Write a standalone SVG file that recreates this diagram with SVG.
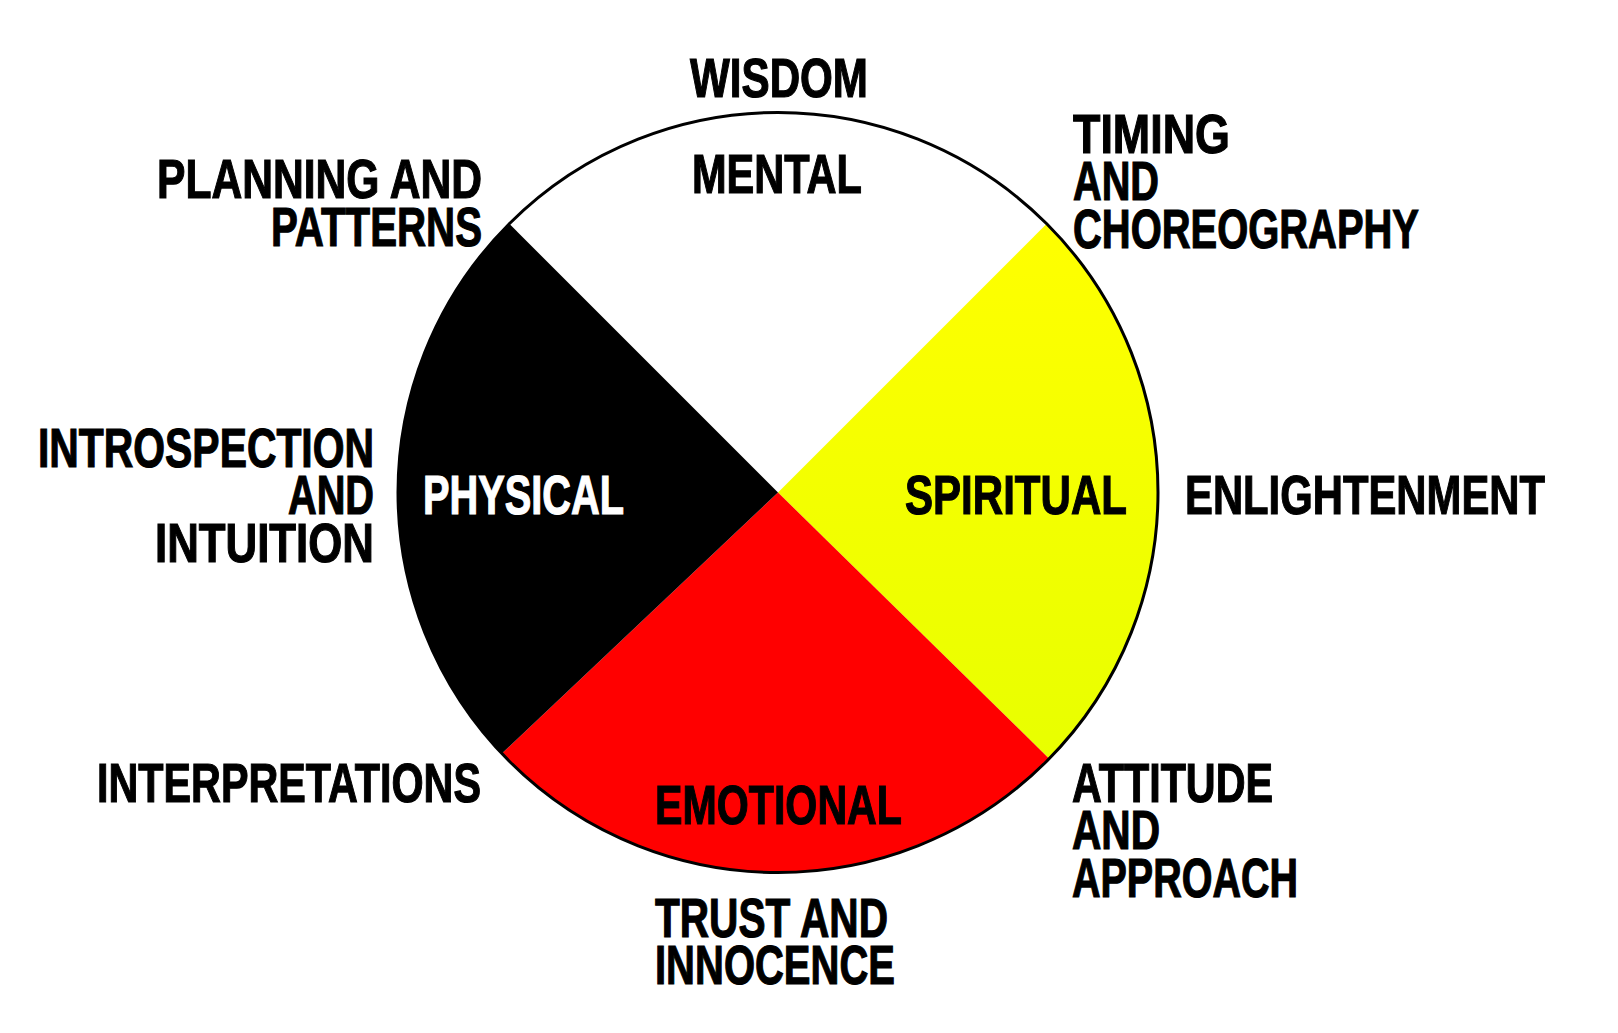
<svg xmlns="http://www.w3.org/2000/svg" width="1618" height="1033" viewBox="0 0 1618 1033">
<style>
  text { font-family: "Liberation Sans", Arial, sans-serif; font-weight: bold; font-size: 56px; fill: #000; stroke: #000; stroke-width: 1.2px; }
  .inv { fill: #fff; stroke: #fff; }
</style>
<defs>
  <linearGradient id="yel" x1="0" y1="224" x2="0" y2="760" gradientUnits="userSpaceOnUse">
    <stop offset="0" stop-color="#ffff00"/>
    <stop offset="1" stop-color="#e8ff00"/>
  </linearGradient>
</defs>
<rect width="1618" height="1033" fill="#fff"/>
<g id="wheel">
  <circle cx="778" cy="492.5" r="380" fill="#fff"/>
  <g id="mental-quadrant">
    <text x="692" y="193" textLength="170" lengthAdjust="spacingAndGlyphs">MENTAL</text>
  </g>
  <g id="spiritual-quadrant">
    <path d="M778 492.5 L1046.7 223.8 A380 380 0 0 1 1049.2 758.7 Z" fill="url(#yel)"/>
    <text x="905" y="514" textLength="222" lengthAdjust="spacingAndGlyphs">SPIRITUAL</text>
  </g>
  <g id="emotional-quadrant">
    <path d="M778 492.5 L1049.2 758.7 A380 380 0 0 1 501.8 753.5 Z" fill="#ff0000"/>
    <text x="655" y="824" textLength="247" lengthAdjust="spacingAndGlyphs">EMOTIONAL</text>
  </g>
  <g id="physical-quadrant">
    <path d="M778 492.5 L501.8 753.5 A380 380 0 0 1 509.3 223.8 Z" fill="#000"/>
    <text class="inv" x="423" y="514" textLength="201" lengthAdjust="spacingAndGlyphs">PHYSICAL</text>
  </g>
  <circle cx="778" cy="492.5" r="380" fill="none" stroke="#000" stroke-width="3"/>
</g>
<g id="wisdom">
  <text x="690" y="97" textLength="178" lengthAdjust="spacingAndGlyphs">WISDOM</text>
</g>
<g id="planning-and-patterns">
  <text x="157" y="198" textLength="325" lengthAdjust="spacingAndGlyphs">PLANNING AND</text>
  <text x="271" y="246" textLength="211" lengthAdjust="spacingAndGlyphs">PATTERNS</text>
</g>
<g id="timing-and-choreography">
  <text x="1073" y="153" textLength="157" lengthAdjust="spacingAndGlyphs">TIMING</text>
  <text x="1073" y="200" textLength="86" lengthAdjust="spacingAndGlyphs">AND</text>
  <text x="1073" y="248" textLength="346" lengthAdjust="spacingAndGlyphs">CHOREOGRAPHY</text>
</g>
<g id="introspection-and-intuition">
  <text x="38" y="467" textLength="336" lengthAdjust="spacingAndGlyphs">INTROSPECTION</text>
  <text x="288" y="514" textLength="86" lengthAdjust="spacingAndGlyphs">AND</text>
  <text x="155" y="562" textLength="219" lengthAdjust="spacingAndGlyphs">INTUITION</text>
</g>
<g id="enlightenment">
  <text x="1185" y="514" textLength="360" lengthAdjust="spacingAndGlyphs">ENLIGHTENMENT</text>
</g>
<g id="interpretations">
  <text x="97" y="802" textLength="384" lengthAdjust="spacingAndGlyphs">INTERPRETATIONS</text>
</g>
<g id="trust-and-innocence">
  <text x="655" y="937" textLength="233" lengthAdjust="spacingAndGlyphs">TRUST AND</text>
  <text x="655" y="984" textLength="240" lengthAdjust="spacingAndGlyphs">INNOCENCE</text>
</g>
<g id="attitude-and-approach">
  <text x="1072" y="802" textLength="201" lengthAdjust="spacingAndGlyphs">ATTITUDE</text>
  <text x="1072" y="849" textLength="88" lengthAdjust="spacingAndGlyphs">AND</text>
  <text x="1072" y="897" textLength="226" lengthAdjust="spacingAndGlyphs">APPROACH</text>
</g>
</svg>
